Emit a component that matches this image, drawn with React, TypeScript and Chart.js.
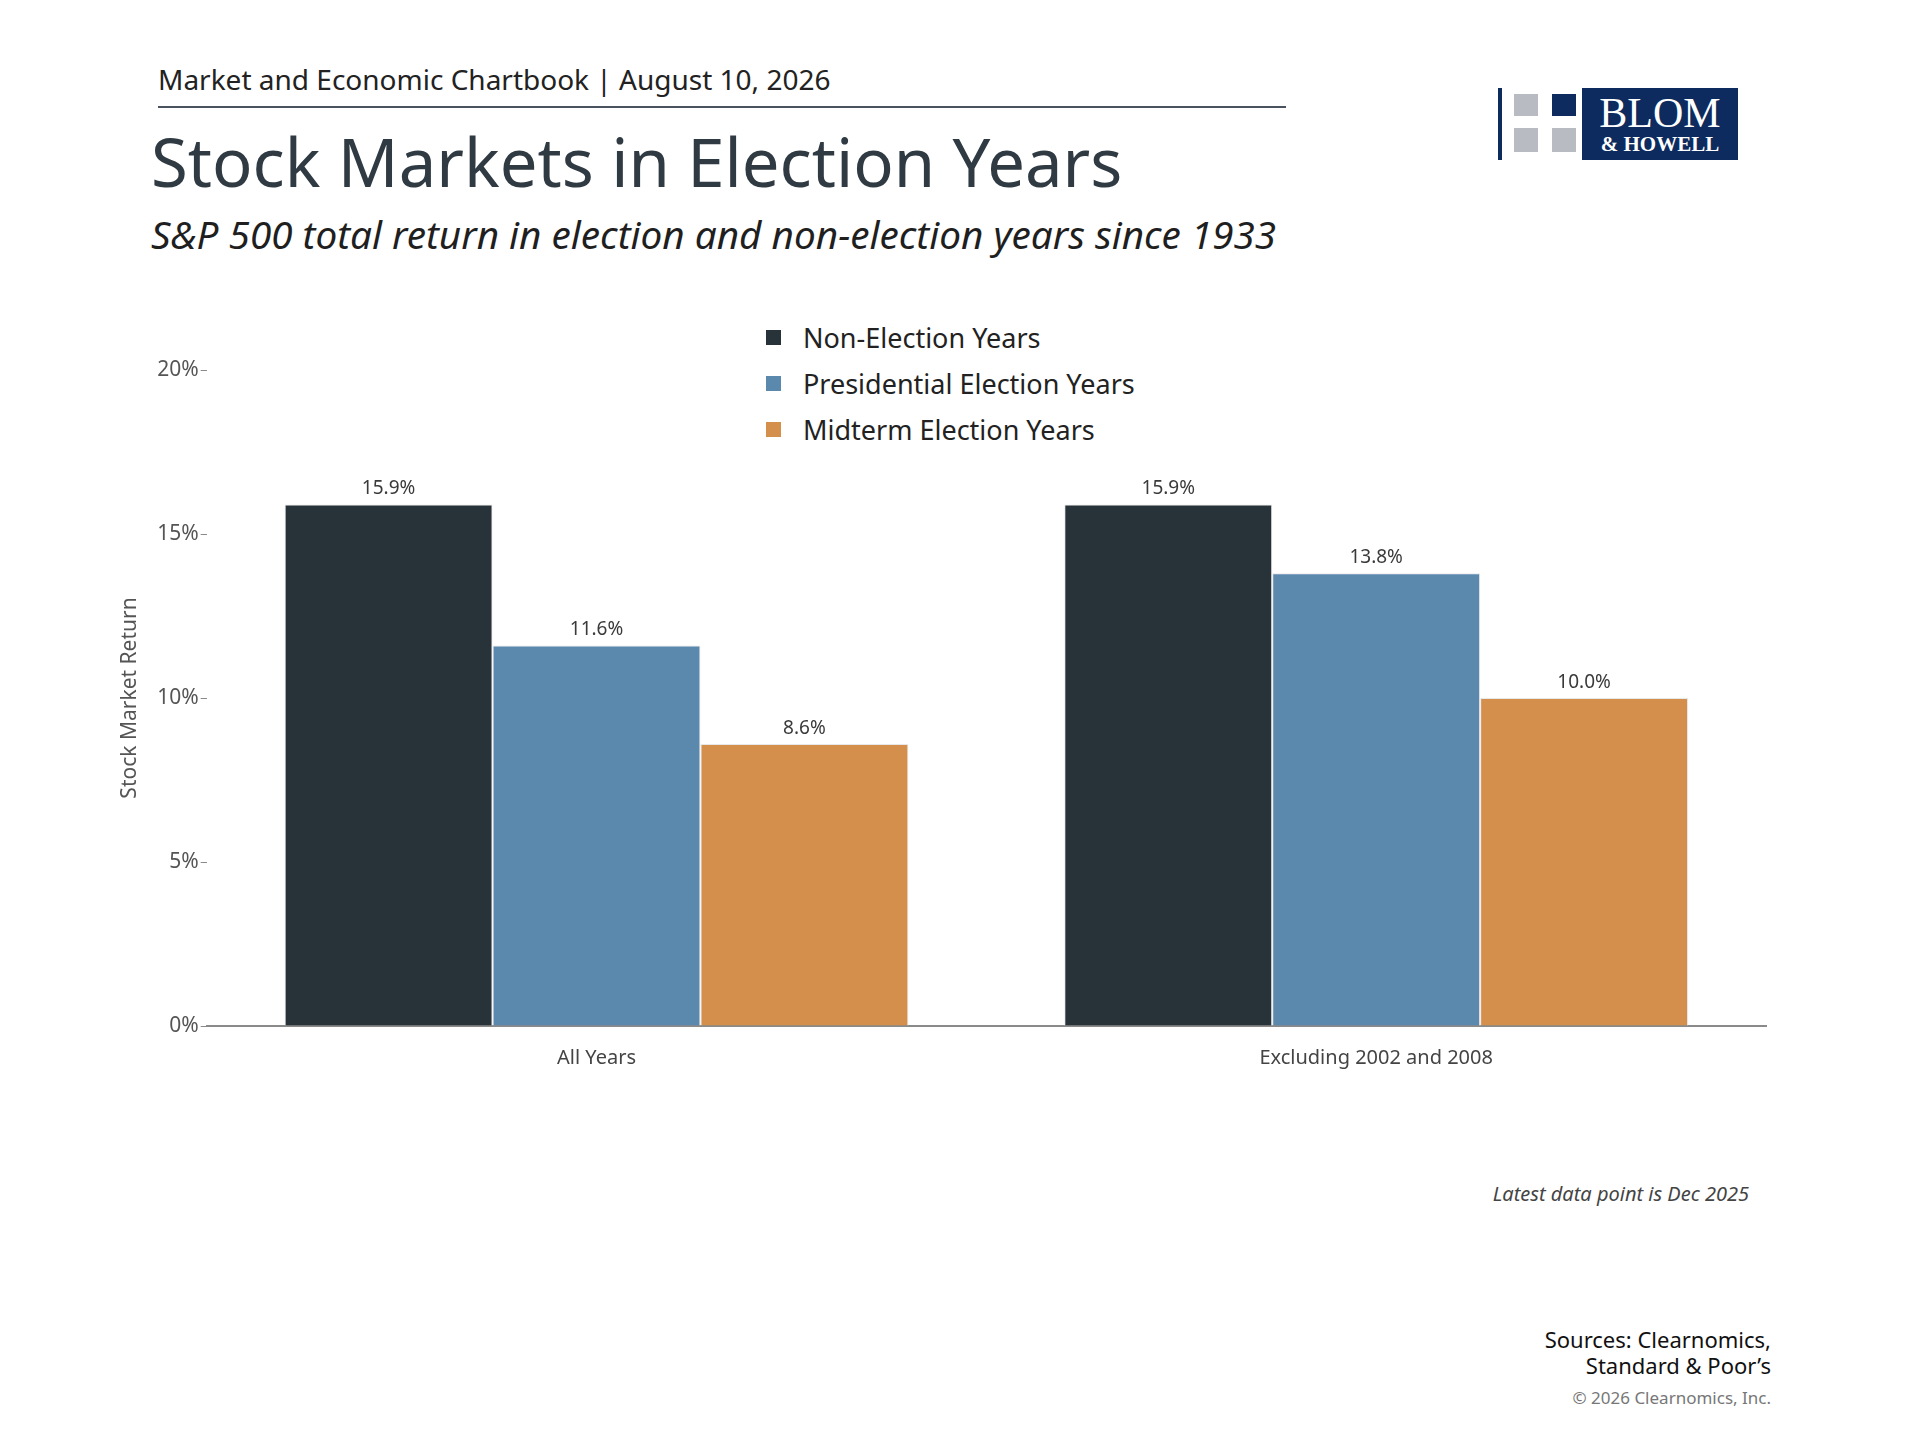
import { Chart, registerables } from 'chart.js'
import { useEffect, useRef } from 'react'

Chart.register(...registerables)

const categories = ['All Years', 'Excluding 2002 and 2008']
const seriesNames = ['Non-Election Years', 'Presidential Election Years', 'Midterm Election Years']
const nonElection = [15.9, 15.9]
const presidential = [11.6, 13.8]
const midterm = [8.6, 10.0]
const colors = ['#283239', '#5b89ae', '#d58f4c']

const FONT = '"Noto Sans", sans-serif'

const valueLabels = {
  id: 'valueLabels',
  afterDatasetsDraw(chart: any) {
    const ctx = chart.ctx
    ctx.save()
    ctx.font = `19px ${FONT}`
    ctx.fillStyle = '#3a3a3a'
    ctx.textAlign = 'center'
    ctx.textBaseline = 'bottom'
    chart.data.datasets.forEach((ds: any, i: number) => {
      chart.getDatasetMeta(i).data.forEach((bar: any, j: number) => {
        ctx.fillText(ds.data[j].toFixed(1) + '%', bar.x, bar.y - 6)
      })
    })
    ctx.restore()
  },
}

function BarChart() {
  const canvasRef = useRef<HTMLCanvasElement>(null)
  useEffect(() => {
    if (!canvasRef.current) return
    const chart = new Chart(canvasRef.current, {
      type: 'bar',
      data: {
        labels: categories,
        datasets: [nonElection, presidential, midterm].map((d, i) => ({
          label: seriesNames[i],
          data: d,
          backgroundColor: colors[i],
          borderColor: '#e8e8e8',
          borderWidth: 1,
          categoryPercentage: 0.8,
          barPercentage: 1,
        })),
      },
      options: {
        responsive: false,
        animation: false,
        layout: { padding: { top: 20, right: 15, left: 27 } },
        plugins: { legend: { display: false }, tooltip: { enabled: false } },
        scales: {
          x: {
            grid: { display: false },
            border: { color: '#8a8a8a', width: 2 },
            ticks: { color: '#444', font: { family: FONT, size: 20 }, padding: 12 },
          },
          y: {
            min: 0,
            max: 20,
            grid: { display: true, drawOnChartArea: false, drawTicks: true, tickLength: 6, color: '#8a8a8a' },
            border: { display: false },
            ticks: {
              stepSize: 5,
              color: '#555',
              font: { family: FONT, size: 21 },
              padding: 2,
              callback: (v: any) => v + '%',
            },
            title: {
              display: true,
              text: 'Stock Market Return',
              color: '#555',
              font: { family: FONT, size: 21 },
              padding: { bottom: 13 },
            },
          },
        },
      },
      plugins: [valueLabels],
    })
    return () => chart.destroy()
  }, [])
  return <canvas ref={canvasRef} width={1695} height={732} />
}

export default function App() {
  const abs = (s: any) => ({ position: 'absolute' as const, margin: 0, whiteSpace: 'nowrap' as const, ...s })
  return (
    <div style={{ position: 'relative', width: 1904, height: 1430, fontFamily: FONT, color: '#2f3a42' }}>
      <div style={abs({ left: 150, top: 52, fontSize: 28, color: '#222' })}>
        Market and Economic Chartbook | August 10, 2026
      </div>
      <div style={abs({ left: 150, top: 98, width: 1128, borderTop: '2px solid #4a5260' })} />
      <div style={abs({ left: 143, top: 107, fontSize: 67, color: '#2f3a42' })}>Stock Markets in Election Years</div>
      <div style={abs({ left: 143, top: 200, fontSize: 38.7, fontStyle: 'italic', color: '#1f1f1f' })}>
        S&amp;P 500 total return in election and non-election years since 1933
      </div>
      <div style={abs({ left: 1490, top: 80, width: 253, height: 72, display: 'flex', alignItems: 'center' })}>
        <div style={{ width: 4, height: 72, background: '#0d2b5e' }} />
        <div style={{ position: 'relative', width: 80, height: 72 }}>
          <div style={{ position: 'absolute', left: 12, top: 6, width: 24, height: 22, background: '#b8bcc2' }} />
          <div style={{ position: 'absolute', left: 12, top: 40, width: 24, height: 24, background: '#b8bcc2' }} />
          <div style={{ position: 'absolute', left: 50, top: 6, width: 24, height: 22, background: '#0d2b5e' }} />
          <div style={{ position: 'absolute', left: 50, top: 40, width: 24, height: 24, background: '#b8bcc2' }} />
        </div>
        <div style={{ background: '#0d2b5e', color: '#fff', height: 72, width: 156, fontFamily: '"Liberation Serif", serif', textAlign: 'center', lineHeight: 1 }}>
          <div style={{ fontSize: 42, marginTop: 4 }}>BLOM</div>
          <div style={{ fontSize: 21, fontWeight: 'bold' }}>&amp; HOWELL</div>
        </div>
      </div>
      <div style={abs({ left: 758, top: 306 })}>
        {seriesNames.map((n, i) => (
          <div key={n} style={{ display: 'flex', alignItems: 'center', height: 46, fontSize: 27, color: '#222' }}>
            <span style={{ width: 15, height: 15, background: colors[i], marginRight: 22, display: 'inline-block' }} />
            {n}
          </div>
        ))}
      </div>
      <div style={abs({ left: 78, top: 342 })}>
        <BarChart />
      </div>
      <div style={abs({ right: 163, top: 1172, fontSize: 20, fontStyle: 'italic', color: '#444' })}>
        Latest data point is Dec 2025
      </div>
      <div style={abs({ right: 141, top: 1318, fontSize: 22, color: '#111', textAlign: 'right', lineHeight: 1.2, whiteSpace: 'normal' })}>
        Sources: Clearnomics,<br />Standard &amp; Poor’s
      </div>
      <div style={abs({ right: 141, top: 1378, fontSize: 17, color: '#777' })}>© 2026 Clearnomics, Inc.</div>
    </div>
  )
}
